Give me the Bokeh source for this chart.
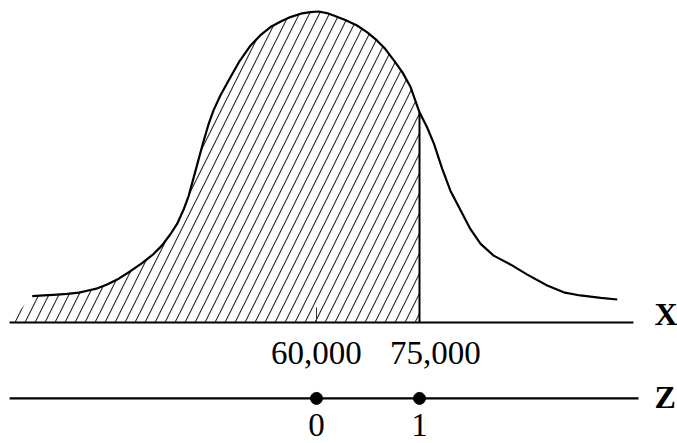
from bokeh.plotting import figure
from bokeh.models import Range1d
from bokeh.core.properties import value
from bokeh.embed import file_html
from bokeh.resources import INLINE

# Salary distribution (relative density, peak = 1)
salary = [18600, 20300, 21700, 23700, 25400, 26600, 28100, 29500, 31200, 32900,
          34600, 36300, 37500, 38700, 39700, 40700, 41400, 42000, 42700, 43500,
          44300, 45000, 46000, 47200, 48700, 50400, 51800, 53300, 54800, 56200,
          57700, 59100, 60300, 61500, 62500, 64200, 65900, 67400, 68800, 70000,
          71300, 72500, 73700, 75000, 76100, 77100, 78300, 79500, 81000, 82400,
          83900, 85800, 88300, 90700, 93600, 96000, 98400, 101400, 103800]
density = [0.085, 0.087, 0.089, 0.092, 0.096, 0.102, 0.110, 0.122, 0.141, 0.165,
           0.191, 0.221, 0.248, 0.283, 0.317, 0.366, 0.408, 0.457, 0.514, 0.579,
           0.639, 0.682, 0.730, 0.778, 0.837, 0.891, 0.923, 0.950, 0.968, 0.982,
           0.993, 0.998, 1.000, 0.995, 0.987, 0.973, 0.955, 0.933, 0.907, 0.880,
           0.842, 0.805, 0.757, 0.676, 0.628, 0.575, 0.495, 0.424, 0.360, 0.301,
           0.253, 0.215, 0.186, 0.154, 0.119, 0.097, 0.087, 0.079, 0.074]

mean_salary = 60000
sd_salary = 15000
cutoff = 75000

x_tick_values = [60000, 75000]
x_tick_labels = ["60,000", "75,000"]
z_tick_values = [0, 1]
z_tick_labels = ["0", "1"]

# horizontal extent of the two number lines
axis_start = 15300
x_axis_end = 106150
z_axis_end = 106900
z_line_y = -0.244

serif = value("Liberation Serif")

p = figure(width=677, height=443, output_backend="svg", toolbar_location=None,
           x_range=Range1d(13981, 112573), y_range=Range1d(-0.389, 1.0354),
           x_axis_location=None, y_axis_location=None, min_border=0)
p.grid.visible = False
p.outline_line_color = None
p.background_fill_color = "white"

# shaded area P(X <= 75,000)
k = salary.index(cutoff)
shade_x = [axis_start] + salary[:k + 1] + [cutoff]
shade_y = [0] + density[:k + 1] + [0]
p.patch(shade_x, shade_y, fill_alpha=0, line_color=None,
        hatch_pattern="/", hatch_color="#2a2a2a", hatch_weight=1.1, hatch_scale=20)

# density curve
p.line(salary, density, line_color="black", line_width=2.2, line_join="round")

# boundary at the cutoff
p.segment(x0=[cutoff], y0=[0], x1=[cutoff], y1=[density[k]],
          line_color="black", line_width=2)

# X axis
p.segment(x0=[axis_start], y0=[0], x1=[x_axis_end], y1=[0],
          line_color="black", line_width=2.2)
p.segment(x0=[mean_salary], y0=[0], x1=[mean_salary], y1=[0.048],
          line_color="#333333", line_width=1)
p.text(x=[x_tick_values[0]], y=[0], text=[x_tick_labels[0]], text_font=serif,
       text_font_size="33px", text_align="center", text_baseline="alphabetic",
       y_offset=30, text_color="black")
p.text(x=[x_tick_values[1]], y=[0], text=[x_tick_labels[1]], text_font=serif,
       text_font_size="33px", text_align="center", text_baseline="alphabetic",
       x_offset=16, y_offset=30, text_color="black")
p.text(x=[x_axis_end], y=[0], text=["X"], text_font=serif, text_font_style="bold",
       text_font_size="32px", text_align="left", text_baseline="alphabetic",
       x_offset=21, y_offset=-9, text_color="black")

# Z axis
z_x = [mean_salary + z * sd_salary for z in z_tick_values]
p.segment(x0=[axis_start], y0=[z_line_y], x1=[z_axis_end], y1=[z_line_y],
          line_color="black", line_width=2.2)
p.scatter(x=z_x, y=[z_line_y] * len(z_x), size=12, color="black")
p.text(x=z_x, y=[z_line_y] * len(z_x), text=z_tick_labels, text_font=serif,
       text_font_size="33px", text_align="center", text_baseline="alphabetic",
       y_offset=27, text_color="black")
p.text(x=[z_axis_end], y=[z_line_y], text=["Z"], text_font=serif, text_font_style="bold",
       text_font_size="32px", text_align="left", text_baseline="alphabetic",
       x_offset=16, y_offset=-1, text_color="black")

open("out.html", "w").write(file_html(p, INLINE))
